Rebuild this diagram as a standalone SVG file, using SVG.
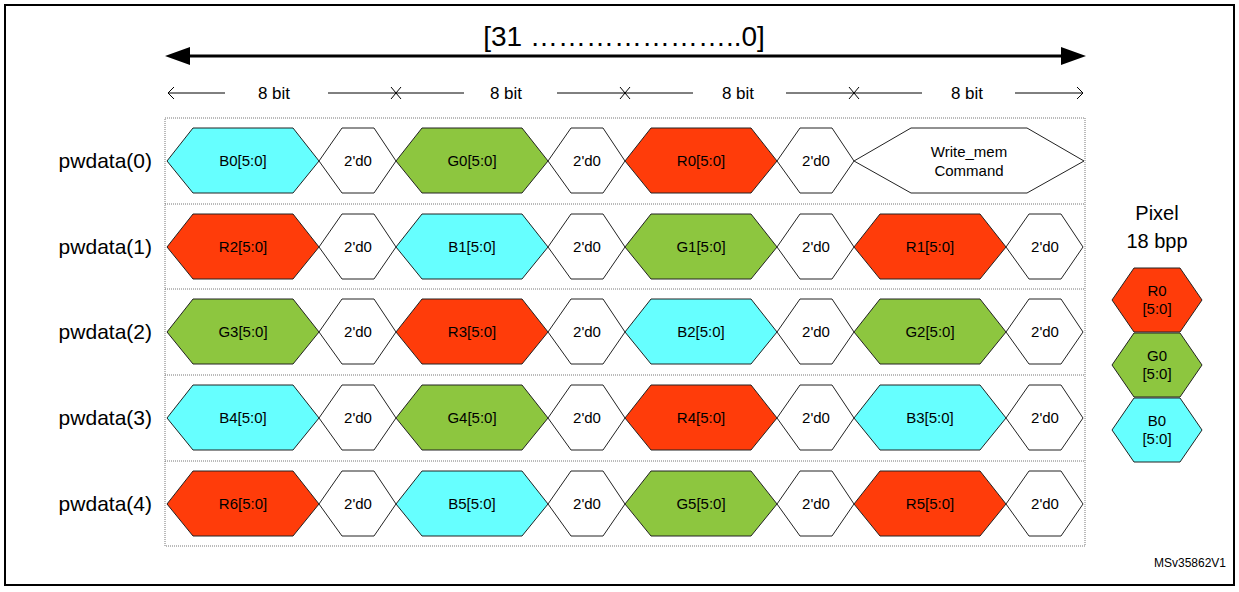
<svg xmlns="http://www.w3.org/2000/svg" width="1239" height="592" viewBox="0 0 1239 592">
<style>
text{font-family:"Liberation Sans",Arial,sans-serif;fill:#000;text-anchor:middle}
.h{stroke:#222;stroke-width:1}
.b{fill:#66FFFF}.g{fill:#8DC63F}.r{fill:#FF3C0A}.w{fill:#fff}
.t{font-size:15px}
.lab{font-size:21px;text-anchor:end}
.dot{fill:none;stroke:#777;stroke-width:1;stroke-dasharray:1 1}
.thin{stroke:#000;stroke-width:1;fill:none}
</style>
<defs>
<polygon id="h6" points="0,0 26,-33 126,-33 152,0 126,32 26,32"/>
<polygon id="z" points="152,0 175,-33 207,-33 229,0 207,32 175,32"/>
<polygon id="wm" points="0,0 57,-33 173,-33 230,0 173,32 57,32"/>
<polygon id="px" points="0,0 22,-32 68,-32 90,0 68,32 22,32"/>
</defs>
<rect x="5" y="5" width="1229" height="580" fill="#fff" stroke="#000" stroke-width="2"/>
<g id="connectors">
<line x1="175" y1="56" x2="1075" y2="56" stroke="#000" stroke-width="3"/>
<path d="M165,56 L190,47 L190,65 z M1086,56 L1061,47 L1061,65 z" fill="#000"/>
<g class="thin">
<path d="M168,93 L225,93 M328,93 L464,93 M557,93 L693,93 M786,93 L922,93 M1015,93 L1083,93"/>
<path d="M174,87 L168,93 L174,99 M1077,87 L1083,93 L1077,99"/>
<path d="M391,87 L401,99 M401,87 L391,99 M620,87 L630,99 M630,87 L620,99 M849,87 L859,99 M859,87 L849,99"/>
</g>
</g>
<text x="624" y="46" style="font-size:28px">[31 …………………..0]</text>
<g style="font-size:17px"><text x="274" y="99">8 bit</text><text x="506" y="99">8 bit</text><text x="738" y="99">8 bit</text><text x="967" y="99">8 bit</text></g>
<g id="box" class="dot">
<rect x="165" y="118" width="920" height="428"/>
<path d="M165,204 H1085 M165,289 H1085 M165,375 H1085 M165,461 H1085"/>
</g>
<g id="row0">
<text class="lab" x="152" y="168">pwdata(0)</text>
<use href="#h6" class="h b" x="167" y="161"/><text class="t" x="243" y="166">B0[5:0]</text>
<use href="#z" class="h w" x="167" y="161"/><text class="t" x="358" y="166">2'd0</text>
<use href="#h6" class="h g" x="396" y="161"/><text class="t" x="472" y="166">G0[5:0]</text>
<use href="#z" class="h w" x="396" y="161"/><text class="t" x="587" y="166">2'd0</text>
<use href="#h6" class="h r" x="625" y="161"/><text class="t" x="701" y="166">R0[5:0]</text>
<use href="#z" class="h w" x="625" y="161"/><text class="t" x="816" y="166">2'd0</text>
<use href="#wm" class="h w" x="854" y="161"/><text class="t" x="969" y="157">Write_mem</text><text class="t" x="969" y="176">Command</text>
</g>
<g id="row1">
<text class="lab" x="152" y="254">pwdata(1)</text>
<use href="#h6" class="h r" x="167" y="247"/><text class="t" x="243" y="252">R2[5:0]</text>
<use href="#z" class="h w" x="167" y="247"/><text class="t" x="358" y="252">2'd0</text>
<use href="#h6" class="h b" x="396" y="247"/><text class="t" x="472" y="252">B1[5:0]</text>
<use href="#z" class="h w" x="396" y="247"/><text class="t" x="587" y="252">2'd0</text>
<use href="#h6" class="h g" x="625" y="247"/><text class="t" x="701" y="252">G1[5:0]</text>
<use href="#z" class="h w" x="625" y="247"/><text class="t" x="816" y="252">2'd0</text>
<use href="#h6" class="h r" x="854" y="247"/><text class="t" x="930" y="252">R1[5:0]</text>
<use href="#z" class="h w" x="854" y="247"/><text class="t" x="1045" y="252">2'd0</text>
</g>
<g id="row2">
<text class="lab" x="152" y="339">pwdata(2)</text>
<use href="#h6" class="h g" x="167" y="332"/><text class="t" x="243" y="337">G3[5:0]</text>
<use href="#z" class="h w" x="167" y="332"/><text class="t" x="358" y="337">2'd0</text>
<use href="#h6" class="h r" x="396" y="332"/><text class="t" x="472" y="337">R3[5:0]</text>
<use href="#z" class="h w" x="396" y="332"/><text class="t" x="587" y="337">2'd0</text>
<use href="#h6" class="h b" x="625" y="332"/><text class="t" x="701" y="337">B2[5:0]</text>
<use href="#z" class="h w" x="625" y="332"/><text class="t" x="816" y="337">2'd0</text>
<use href="#h6" class="h g" x="854" y="332"/><text class="t" x="930" y="337">G2[5:0]</text>
<use href="#z" class="h w" x="854" y="332"/><text class="t" x="1045" y="337">2'd0</text>
</g>
<g id="row3">
<text class="lab" x="152" y="425">pwdata(3)</text>
<use href="#h6" class="h b" x="167" y="418"/><text class="t" x="243" y="423">B4[5:0]</text>
<use href="#z" class="h w" x="167" y="418"/><text class="t" x="358" y="423">2'd0</text>
<use href="#h6" class="h g" x="396" y="418"/><text class="t" x="472" y="423">G4[5:0]</text>
<use href="#z" class="h w" x="396" y="418"/><text class="t" x="587" y="423">2'd0</text>
<use href="#h6" class="h r" x="625" y="418"/><text class="t" x="701" y="423">R4[5:0]</text>
<use href="#z" class="h w" x="625" y="418"/><text class="t" x="816" y="423">2'd0</text>
<use href="#h6" class="h b" x="854" y="418"/><text class="t" x="930" y="423">B3[5:0]</text>
<use href="#z" class="h w" x="854" y="418"/><text class="t" x="1045" y="423">2'd0</text>
</g>
<g id="row4">
<text class="lab" x="152" y="511">pwdata(4)</text>
<use href="#h6" class="h r" x="167" y="504"/><text class="t" x="243" y="509">R6[5:0]</text>
<use href="#z" class="h w" x="167" y="504"/><text class="t" x="358" y="509">2'd0</text>
<use href="#h6" class="h b" x="396" y="504"/><text class="t" x="472" y="509">B5[5:0]</text>
<use href="#z" class="h w" x="396" y="504"/><text class="t" x="587" y="509">2'd0</text>
<use href="#h6" class="h g" x="625" y="504"/><text class="t" x="701" y="509">G5[5:0]</text>
<use href="#z" class="h w" x="625" y="504"/><text class="t" x="816" y="509">2'd0</text>
<use href="#h6" class="h r" x="854" y="504"/><text class="t" x="930" y="509">R5[5:0]</text>
<use href="#z" class="h w" x="854" y="504"/><text class="t" x="1045" y="509">2'd0</text>
</g>
<g id="pixel">
<text x="1157" y="220" style="font-size:20px">Pixel</text>
<text x="1157" y="248" style="font-size:20px">18 bpp</text>
<use href="#px" class="h r" x="1112" y="300"/><text class="t" x="1157" y="296">R0</text><text class="t" x="1157" y="314">[5:0]</text>
<use href="#px" class="h g" x="1112" y="365"/><text class="t" x="1157" y="361">G0</text><text class="t" x="1157" y="379">[5:0]</text>
<use href="#px" class="h b" x="1112" y="430"/><text class="t" x="1157" y="426">B0</text><text class="t" x="1157" y="444">[5:0]</text>
</g>
<text x="1226" y="567" style="font-size:12px;text-anchor:end">MSv35862V1</text>
</svg>
